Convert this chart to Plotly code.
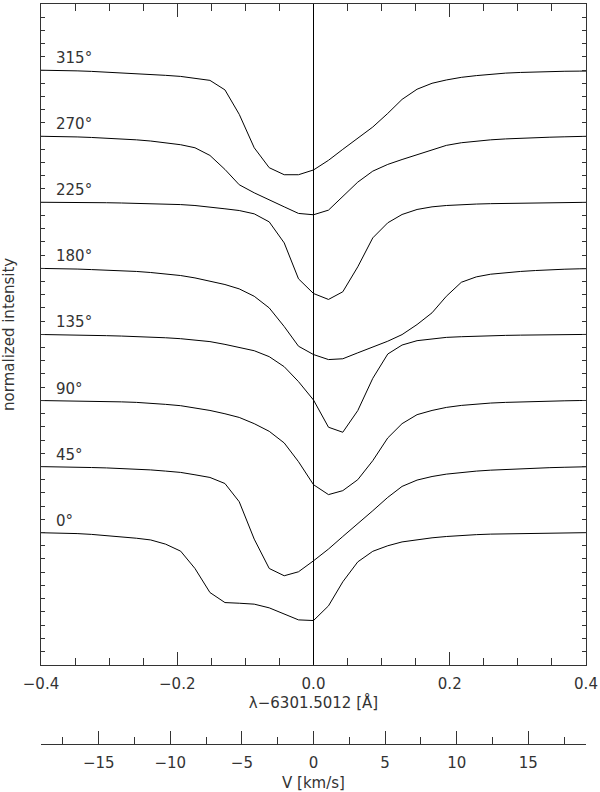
import plotly.graph_objects as go

# wavelength offset from 6301.5012 A (vertex positions of the sampled profiles)
wl = [-0.412, -0.391, -0.369, -0.347, -0.326, -0.304, -0.282, -0.260, -0.239, -0.217,
      -0.195, -0.174, -0.152, -0.130, -0.109, -0.087, -0.065, -0.043, -0.022, 0.0,
      0.022, 0.043, 0.065, 0.087, 0.109, 0.130, 0.152, 0.174, 0.195, 0.217,
      0.239, 0.260, 0.282, 0.304, 0.326, 0.347, 0.369, 0.391, 0.412]

angles = ["0°", "45°", "90°", "135°", "180°", "225°", "270°", "315°"]

# normalized intensity of each profile (continuum = 1)
p0 = [1.000, 0.999, 0.996, 0.992, 0.986, 0.978, 0.968, 0.957, 0.944, 0.912,
      0.859, 0.728, 0.546, 0.470, 0.465, 0.458, 0.430, 0.385, 0.339, 0.334,
      0.445, 0.627, 0.778, 0.858, 0.900, 0.929, 0.947, 0.960, 0.970,
      0.978, 0.984, 0.988, 0.990, 0.992, 0.994, 0.996, 0.998, 0.999, 1.000]
p45 = [1.000, 0.999, 0.997, 0.995, 0.992, 0.989, 0.985, 0.980, 0.974, 0.965,
       0.955, 0.937, 0.917, 0.871, 0.733, 0.450, 0.228, 0.173, 0.203, 0.286,
       0.375, 0.470, 0.564, 0.665, 0.766, 0.849, 0.897, 0.924, 0.942,
       0.955, 0.965, 0.972, 0.978, 0.983, 0.987, 0.991, 0.994, 0.997, 0.999]
p90 = [1.000, 0.999, 0.998, 0.996, 0.994, 0.992, 0.989, 0.985, 0.979, 0.970,
       0.960, 0.942, 0.924, 0.899, 0.871, 0.824, 0.766, 0.678, 0.536, 0.362,
       0.287, 0.317, 0.400, 0.544, 0.716, 0.824, 0.892, 0.924, 0.947,
       0.962, 0.973, 0.980, 0.985, 0.989, 0.992, 0.995, 0.997, 0.999, 1.000]
p135 = [1.000, 0.999, 0.997, 0.995, 0.992, 0.990, 0.987, 0.984, 0.980, 0.974,
        0.967, 0.957, 0.945, 0.924, 0.902, 0.876, 0.831, 0.755, 0.642, 0.503,
        0.297, 0.259, 0.423, 0.667, 0.851, 0.919, 0.952, 0.967, 0.977,
        0.982, 0.987, 0.990, 0.992, 0.994, 0.996, 0.997, 0.998, 0.999, 1.000]
p180 = [1.000, 0.999, 0.997, 0.994, 0.990, 0.986, 0.981, 0.976, 0.968, 0.957,
        0.945, 0.927, 0.902, 0.877, 0.844, 0.788, 0.700, 0.559, 0.410, 0.347,
        0.309, 0.315, 0.360, 0.405, 0.448, 0.498, 0.574, 0.663, 0.788,
        0.894, 0.935, 0.955, 0.967, 0.976, 0.983, 0.989, 0.993, 0.996, 0.998]
p225 = [1.000, 1.000, 0.999, 0.998, 0.997, 0.996, 0.994, 0.992, 0.990, 0.986,
        0.982, 0.975, 0.965, 0.950, 0.937, 0.912, 0.851, 0.692, 0.420, 0.309,
        0.264, 0.322, 0.511, 0.730, 0.844, 0.907, 0.945, 0.965, 0.975,
        0.982, 0.986, 0.989, 0.991, 0.993, 0.995, 0.997, 0.998, 0.999, 1.000]
p270 = [1.000, 0.999, 0.997, 0.994, 0.990, 0.985, 0.980, 0.972, 0.963, 0.950,
        0.935, 0.912, 0.854, 0.748, 0.632, 0.571, 0.521, 0.465, 0.415, 0.405,
        0.440, 0.546, 0.652, 0.735, 0.786, 0.823, 0.861, 0.899, 0.930,
        0.950, 0.963, 0.972, 0.979, 0.985, 0.989, 0.992, 0.995, 0.998, 1.000]
p315 = [1.000, 0.999, 0.997, 0.994, 0.990, 0.985, 0.980, 0.975, 0.968, 0.960,
        0.952, 0.940, 0.922, 0.850, 0.665, 0.412, 0.261, 0.208, 0.208, 0.244,
        0.317, 0.400, 0.481, 0.569, 0.672, 0.778, 0.855, 0.900, 0.925,
        0.945, 0.958, 0.970, 0.977, 0.982, 0.986, 0.989, 0.991, 0.992, 0.993]

profiles = [p0, p45, p90, p135, p180, p225, p270, p315]

step = 0.5          # vertical shift between consecutive profiles
lam0 = 6301.5012
c_kms = 299792.458
v_max = 0.4 / lam0 * c_kms

ink = "#333333"
font = dict(family="DejaVu Sans", size=15, color=ink)

fig = go.Figure()
for i, prof in enumerate(profiles):
    fig.add_trace(go.Scatter(
        x=wl,
        y=[v + step * i for v in prof],
        mode='lines',
        line=dict(color='black', width=1),
        showlegend=False,
        hoverinfo='skip',
    ))

# dummy trace so the velocity axis gets drawn
fig.add_trace(go.Scatter(
    x=[-v_max, v_max], y=[0, 0], xaxis='x2', yaxis='y',
    mode='markers', marker=dict(opacity=0), showlegend=False, hoverinfo='skip',
))

fig.add_vline(x=0, line_width=1, line_color='black')

annotations = []
for i, a in enumerate(angles):
    annotations.append(dict(
        x=-0.381, y=1 + step * i + 0.09, xref='x', yref='y',
        text=a, showarrow=False, xanchor='left', yanchor='middle', font=font,
    ))

fig.update_layout(
    width=600, height=792,
    margin=dict(l=41, r=14, t=4, b=48),
    paper_bgcolor='white', plot_bgcolor='white',
    font=font,
    showlegend=False,
    xaxis=dict(
        range=[-0.4, 0.4], dtick=0.2, tick0=0, tickformat='.1f',
        ticks='inside', ticklen=13, tickcolor=ink,
        minor=dict(dtick=0.05, ticks='inside', ticklen=7, tickcolor=ink),
        showline=True, linecolor=ink, linewidth=1, mirror='ticks',
        showgrid=False, zeroline=False, ticklabelstandoff=5,
        title=dict(text='λ−6301.5012 [Å]', standoff=5, font=font),
        automargin=False,
    ),
    xaxis2=dict(
        overlaying='x', anchor='free', position=0, side='bottom',
        range=[-v_max, v_max], dtick=5, tick0=0,
        ticks='inside', ticklen=13, tickcolor=ink,
        minor=dict(dtick=2.5, ticks='inside', ticklen=7, tickcolor=ink),
        showline=True, linecolor=ink, linewidth=1,
        showgrid=False, zeroline=False, ticklabelstandoff=5,
        title=dict(text='V [km/s]', standoff=8, font=font),
        automargin=False,
    ),
    yaxis=dict(
        domain=[0.1072, 1], range=[0, 5], dtick=0.1, tick0=0,
        ticks='inside', ticklen=4, tickcolor=ink, showticklabels=False,
        showline=True, linecolor=ink, linewidth=1, mirror='ticks',
        showgrid=False, zeroline=False,
        title=dict(text='normalized intensity', standoff=21, font=font),
        automargin=False,
    ),
    annotations=annotations,
)

fig.write_html("out.html", config={'displayModeBar': False},
               post_script="document.body.style.margin='0';")
